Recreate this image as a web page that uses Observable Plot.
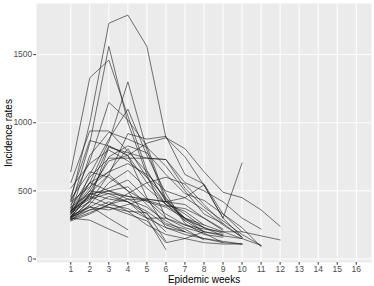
<!DOCTYPE html>
<html>
<head>
<meta charset="utf-8">
<script src="https://cdn.jsdelivr.net/npm/d3@7"></script>
<script src="https://cdn.jsdelivr.net/npm/@observablehq/plot@0.6"></script>
<style>
  html, body { margin: 0; padding: 0; background: #fff; }
  #chart svg { display: block; }
</style>
</head>
<body>
<div id="chart"></div>
<script>
// Epidemic weeks (x tick labels)
const weeks = [1,2,3,4,5,6,7,8,9,10,11,12,13,14,15,16];
const yTicks = [0, 500, 1000, 1500];

// Incidence rates per series, starting at week 1
const s01 = [430, 1000, 1730, 1790, 1560, 890, 810, 640, 490, 450, 360, 240];
const s02 = [640, 1330, 1460, 1050, 650, 420, 300, 230, 170, 150];
const s03 = [380, 850, 1560, 1000, 620, 300, 230, 190, 120, 110];
const s04 = [360, 560, 860, 1300, 800, 420, 330, 230, 190];
const s05 = [420, 720, 1150, 1020, 830, 440, 280, 200];
const s06 = [300, 620, 880, 1100, 760, 480, 260, 180, 160];
const s07 = [560, 940, 940, 790, 640, 430, 290, 230];
const s08 = [340, 760, 930, 880, 820, 680, 500, 330, 260, 160];
const s09 = [330, 480, 620, 920, 880, 900, 620, 550, 330, 200, 170, 140];
const s10 = [350, 520, 830, 760, 850, 890, 750, 540, 300, 705];
const s11 = [290, 430, 820, 780, 740, 730, 560, 500, 420, 300, 220];
const s12 = [310, 470, 750, 830, 780, 620, 480, 430, 330, 230, 90];
const s13 = [460, 870, 830, 760, 560, 400, 300, 250];
const s14 = [520, 700, 800, 720, 600, 400, 280];
const s15 = [330, 560, 640, 810, 600, 450, 300, 200, 180];
const s16 = [280, 400, 560, 650, 520, 400, 350, 250, 200, 150, 100];
const s17 = [300, 480, 500, 460, 440, 420, 400, 300, 220];
const s18 = [300, 285, 220, 160];
const s19 = [310, 390, 300, 215];
const s20 = [350, 460, 400, 370, 300, 70];
const s21 = [340, 420, 380, 330, 280, 120, 150, 200];
const s22 = [380, 480, 440, 420, 350, 250, 200, 150, 130, 110];
const s23 = [320, 380, 360, 400, 440, 420, 450, 360, 250, 160];
const s24 = [290, 340, 400, 440, 430, 300, 250, 200, 170];
const s25 = [400, 560, 500, 440, 380, 280, 200];
const s26 = [360, 450, 500, 530, 400, 260, 220, 140];
const s27 = [300, 420, 620, 500, 420, 380, 300];
const s28 = [350, 440, 480, 460, 430, 390, 370, 300, 210];
const s29 = [420, 530, 640, 700, 620, 500, 450, 545, 300, 160];
const s30 = [310, 360, 420, 350, 250, 180, 150, 120, 110, 110];
const s31 = [330, 500, 720, 760, 450, 230, 180, 150, 120];
const s32 = [370, 600, 740, 740, 740, 730, 520, 380, 280, 180, 100];
const s33 = [280, 330, 400, 480, 560, 600, 550, 400, 260];
const s34 = [300, 380, 460, 420, 300, 230, 200];
const s35 = [350, 500, 480, 420, 330, 200];
const s36 = [290, 360, 380, 350, 340, 130];
const s37 = [440, 640, 600, 500, 300, 300];
const s38 = [310, 470, 520, 580, 440, 330, 250, 220, 200, 200];

const seriesList = [s01,s02,s03,s04,s05,s06,s07,s08,s09,s10,s11,s12,s13,s14,s15,s16,s17,s18,s19,
  s20,s21,s22,s23,s24,s25,s26,s27,s28,s29,s30,s31,s32,s33,s34,s35,s36,s37,s38];

const rows = seriesList.flatMap((vals, i) =>
  vals.map((v, j) => ({series: i, week: weeks[j], rate: v})));

const chart = Plot.plot({
  width: 374,
  height: 286,
  marginLeft: 36,
  marginRight: 3,
  marginTop: 3,
  marginBottom: 24,
  style: {fontFamily: "Liberation Sans, Arial, sans-serif", background: "#fff"},
  x: {type: "linear", domain: [-0.8, 16.8]},
  y: {type: "linear", domain: [-25.5, 1875]},
  marks: [
    Plot.frame({fill: "#EBEBEB", stroke: null}),
    Plot.gridX(weeks, {stroke: "#fff", strokeOpacity: 1, strokeWidth: 1}),
    Plot.gridY(yTicks, {stroke: "#fff", strokeOpacity: 1, strokeWidth: 1}),
    Plot.line(rows, {x: "week", y: "rate", z: "series", stroke: "#1a1a1a", strokeWidth: 0.75, strokeOpacity: 0.8}),
    Plot.axisX(weeks, {tickSize: 2.7, tickPadding: 1, fontSize: 8.5, color: "#4D4D4D", stroke: "#333",
      tickFormat: "d",
      label: "Epidemic weeks", labelAnchor: "center", labelArrow: "none", labelOffset: 20.5}),
    Plot.axisY(yTicks, {tickSize: 2.7, tickPadding: 1.5, fontSize: 8.5, color: "#4D4D4D", stroke: "#333",
      tickFormat: "d",
      label: "Incidence rates", labelAnchor: "center", labelArrow: "none", labelOffset: 32})
  ]
});
document.getElementById("chart").appendChild(chart);
// title styling (ggplot axis titles are black, larger)
d3.select(chart).selectAll("g[aria-label='x-axis label'] text, g[aria-label='y-axis label'] text")
  .attr("fill", "#000").style("font-size", "10px");
</script>
</body>
</html>
